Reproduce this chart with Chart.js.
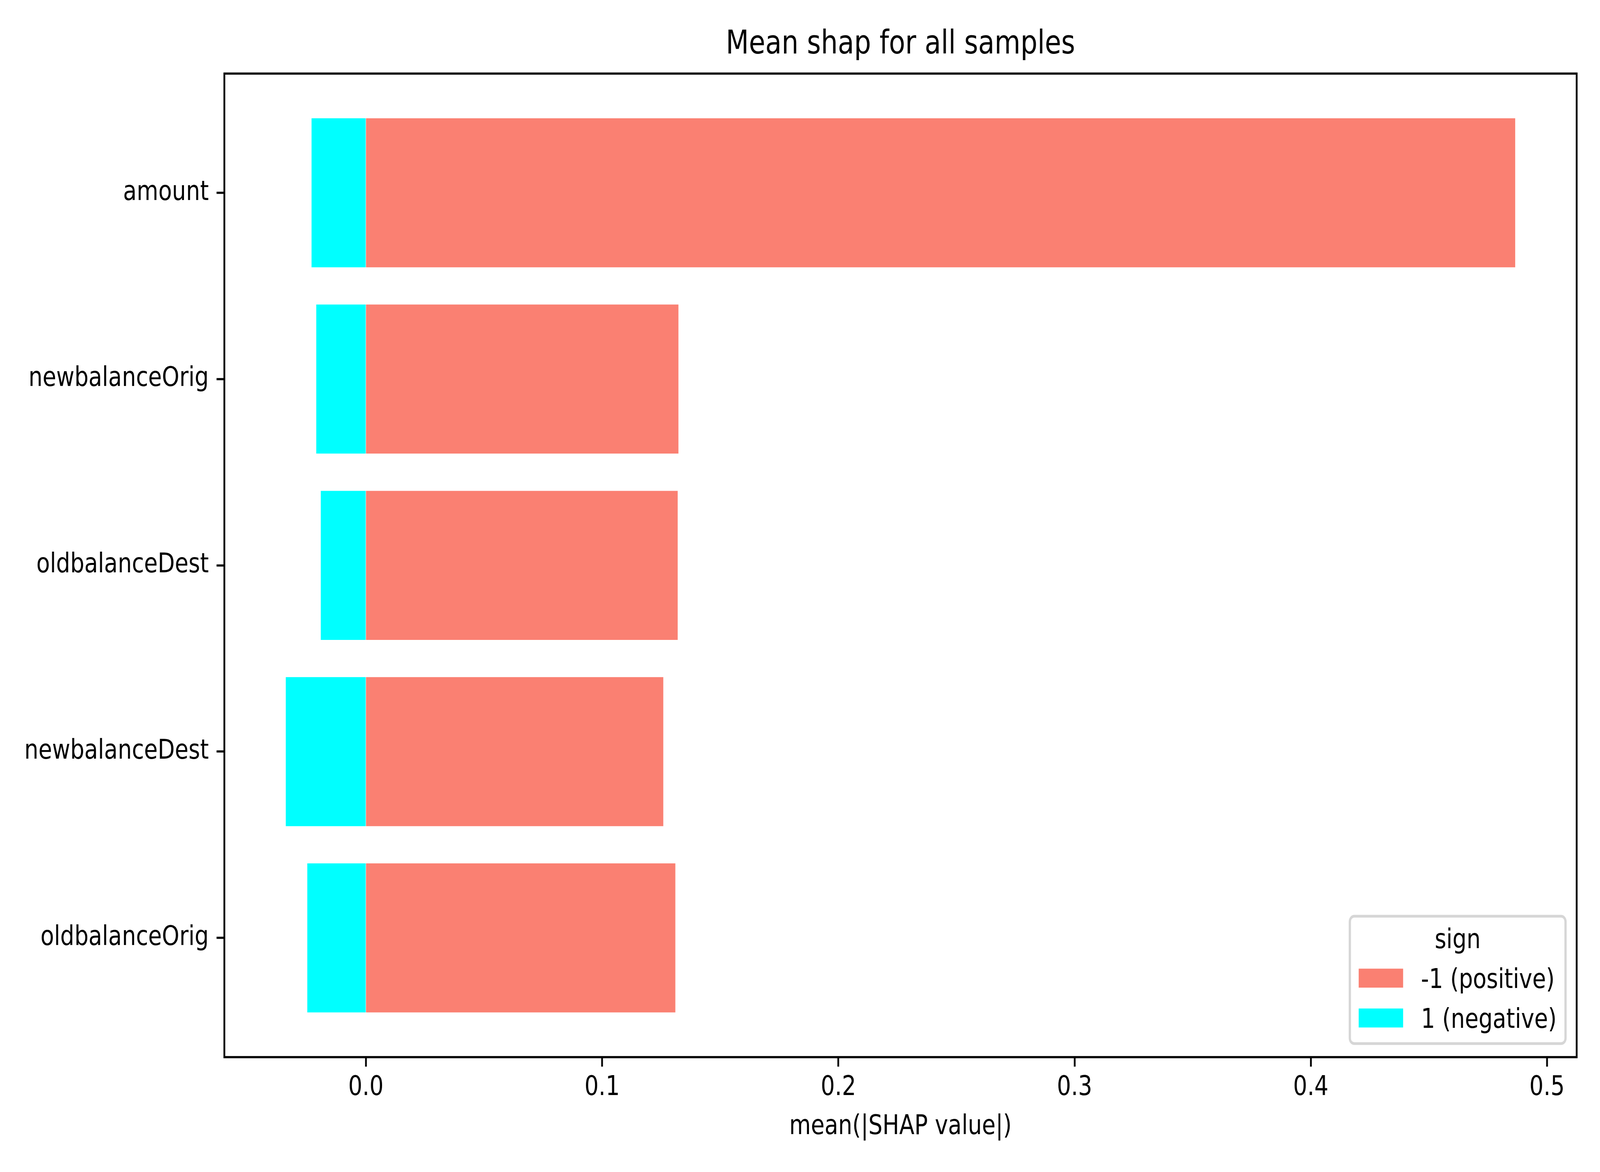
<!DOCTYPE html>
<html>
<head>
<meta charset="utf-8">
<script src="https://cdn.jsdelivr.net/npm/chart.js@4.4.1/dist/chart.umd.min.js"></script>
<style>
  html, body { margin: 0; padding: 0; background: #fff; overflow: hidden; }
  canvas { display: block; width: 100vw !important; height: 100vh !important; }
</style>
</head>
<body>
<canvas id="shapChart" width="5000" height="3000"></canvas>
<script>
// values
const features = ['amount', 'newbalanceOrig', 'oldbalanceDest', 'newbalanceDest', 'oldbalanceOrig'];
const positiveShap = [0.4865, 0.1323, 0.1320, 0.1259, 0.1310];
const negativeShap = [-0.0230, -0.0210, -0.0191, -0.0339, -0.0248];
const xTicks = [0.0, 0.1, 0.2, 0.3, 0.4, 0.5];
const seriesLabels = ['-1 (positive)', '1 (negative)'];
const legendTitle = 'sign';

const PT = 500 / 72;          // figure is 10x6 in at 500 dpi
const FONT = 'DejaVu Sans';
const FS = 10 * PT;

// matplotlib style limits: 5% margin around the data
const lo = Math.min(...negativeShap), hi = Math.max(...positiveShap);
const xMin = lo - 0.05 * (hi - lo);
const xMax = hi + 0.05 * (hi - lo);
const yPad = 0.05 * (features.length - 1 + 0.8);

const framePlugin = {
  id: 'frame',
  afterDatasetsDraw(chart) {
    const { ctx, chartArea: a } = chart;
    ctx.save();
    ctx.strokeStyle = '#000';
    ctx.lineWidth = 0.8 * PT;
    ctx.strokeRect(a.left, a.top, a.right - a.left, a.bottom - a.top);
    ctx.restore();
  }
};

// legend box like matplotlib's lower right legend with a title
const boxLegend = {
  id: 'boxLegend',
  afterDraw(chart) {
    const { ctx, chartArea: a } = chart;
    const ds = chart.data.datasets;
    ctx.save();
    ctx.font = FS + 'px "' + FONT + '"';
    const textW = Math.max(...ds.map(d => ctx.measureText(d.label).width));
    const w = 0.4 * FS + 2 * FS + 0.8 * FS + textW + 0.4 * FS;
    const right = a.right - 0.5 * FS;
    const bottom = a.bottom - 0.5 * FS;
    const left = right - w;
    const top = bottom - 326;

    ctx.beginPath();
    ctx.roundRect(left, top, w, bottom - top, 0.2 * FS);
    ctx.fillStyle = 'rgba(255,255,255,0.8)';
    ctx.fill();
    ctx.lineWidth = 1 * PT;
    ctx.strokeStyle = 'rgba(204,204,204,0.8)';
    ctx.stroke();

    ctx.fillStyle = '#000';
    ctx.textAlign = 'center';
    ctx.textBaseline = 'alphabetic';
    ctx.fillText(legendTitle, (left + right) / 2, bottom - 244);

    const rows = [bottom - 167.5, bottom - 65.5];
    ds.forEach((d, i) => {
      const cy = rows[i];
      const hx = left + 0.4 * FS;
      ctx.fillStyle = d.backgroundColor;
      ctx.fillRect(hx, cy - 0.35 * FS, 2 * FS, 0.7 * FS);
      ctx.fillStyle = '#000';
      ctx.textAlign = 'left';
      ctx.fillText(d.label, hx + 2.8 * FS, cy + 0.729 * FS / 2);
    });
    ctx.restore();
  }
};

const ctx = document.getElementById('shapChart').getContext('2d');
new Chart(ctx, {
  type: 'bar',
  data: {
    datasets: [
      {
        label: seriesLabels[0],
        data: positiveShap.map((v, i) => ({ x: v, y: i })),
        backgroundColor: '#FA8072'
      },
      {
        label: seriesLabels[1],
        data: negativeShap.map((v, i) => ({ x: v, y: i })),
        backgroundColor: '#00FFFF'
      }
    ]
  },
  options: {
    indexAxis: 'y',
    responsive: false,
    animation: false,
    devicePixelRatio: 1,
    datasets: {
      bar: { categoryPercentage: 1.0, barPercentage: 0.8, borderWidth: 0 }
    },
    layout: { padding: { left: 0, right: 73, top: 0, bottom: 0 } },
    plugins: {
      legend: { display: false },
      tooltip: { enabled: false },
      title: {
        display: true,
        text: 'Mean shap for all samples',
        fullSize: false,
        color: '#000',
        font: { family: FONT, size: 12 * PT, weight: 'normal', lineHeight: 1 },
        padding: { top: 74, bottom: 31 }
      }
    },
    scales: {
      x: {
        type: 'linear',
        stacked: true,
        min: xMin,
        max: xMax,
        afterFit: s => { s.height = 294; },
        afterBuildTicks: s => { s.ticks = xTicks.map(v => ({ value: v })); },
        ticks: {
          color: '#000',
          padding: 13,
          maxRotation: 0,
          font: { family: FONT, size: FS },
          callback: v => v.toFixed(1)
        },
        grid: {
          drawOnChartArea: false,
          drawTicks: true,
          tickLength: 3.5 * PT,
          tickWidth: 0.8 * PT,
          tickColor: '#000'
        },
        border: { display: false },
        title: {
          display: true,
          text: 'mean(|SHAP value|)',
          color: '#000',
          font: { family: FONT, size: FS, lineHeight: 1 },
          padding: { top: 0, bottom: 80 }
        }
      },
      y: {
        type: 'linear',
        stacked: true,
        reverse: true,
        offset: false,
        min: -0.4 - yPad,
        max: features.length - 1 + 0.4 + yPad,
        afterFit: s => { s.width = 701; },
        afterBuildTicks: s => { s.ticks = features.map((f, i) => ({ value: i })); },
        ticks: {
          color: '#000',
          padding: 3.5 * PT,
          font: { family: FONT, size: FS },
          callback: v => features[v]
        },
        grid: {
          offset: false,
          drawOnChartArea: false,
          drawTicks: true,
          tickLength: 3.5 * PT,
          tickWidth: 0.8 * PT,
          tickColor: '#000'
        },
        border: { display: false }
      }
    }
  },
  plugins: [framePlugin, boxLegend]
});
</script>
</body>
</html>
